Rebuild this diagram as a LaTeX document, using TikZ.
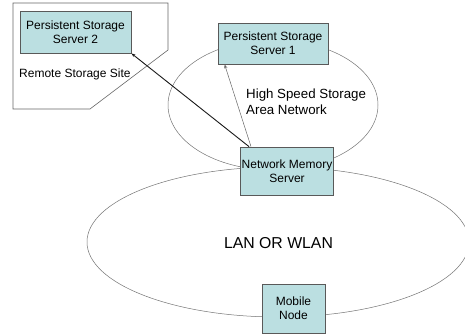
\documentclass[tikz,border=0pt]{standalone}
\usepackage{fontspec}
\setmainfont{Liberation Sans}
\usetikzlibrary{arrows.meta}
\begin{document}
\begin{tikzpicture}[x=1pt,y=-1pt,
  box/.style={draw=black!65,fill=boxfill,line width=0.8pt,inner sep=0pt,align=center,font=\fontsize{12}{14}\selectfont},
  net/.style={draw=black!55,line width=0.5pt},
  lbl/.style={inner sep=0pt,align=left}]
\definecolor{boxfill}{HTML}{BBDFE1}
\useasboundingbox (0,0) rectangle (465,335);
% networks
\draw[net] (273,105) ellipse [x radius=105,y radius=65];
\draw[net] (278,242) ellipse [x radius=191,y radius=75];
% remote storage site
\draw[black!60,line width=0.6pt] (13,3) -- (168,3) -- (168,50) -- (90,109) -- (13,109) -- cycle;
% boxes
\node[box,minimum width=111pt,minimum height=42pt] (pss2) at (75.5,32) {Persistent Storage\\Server 2};
\node[box,minimum width=110pt,minimum height=41pt] (pss1) at (273,43.5) {Persistent Storage\\Server 1};
\node[box,minimum width=93pt,minimum height=48pt] (nms) at (287,171) {Network Memory\\Server};
\node[box,minimum width=63pt,minimum height=49pt] (mn) at (293.5,308.5) {Mobile\\Node};
% labels
\node[lbl,anchor=west,font=\fontsize{12}{14}\selectfont] (rss) at (19,74) {Remote Storage Site};
\node[lbl,anchor=west,font=\fontsize{13.3}{15.5}\selectfont] (hss) at (246,101.5) {High Speed Storage\\Area Network};
\node[lbl,font=\fontsize{15.8}{18}\selectfont] (lan) at (278.5,243) {LAN OR WLAN};
% connectors
\coordinate (s2) at ([xshift=-38pt]nms.north);
\coordinate (s1) at ([xshift=-36pt]nms.north);
\draw[-{Stealth[length=4pt,width=3pt]},line width=0.9pt,black!90] (s2) -- (pss2.south east);
\draw[-{Stealth[length=4pt,width=3pt]},line width=0.5pt,black!60] (s1) -- ([xshift=7pt]pss1.south west);
\end{tikzpicture}
\end{document}
